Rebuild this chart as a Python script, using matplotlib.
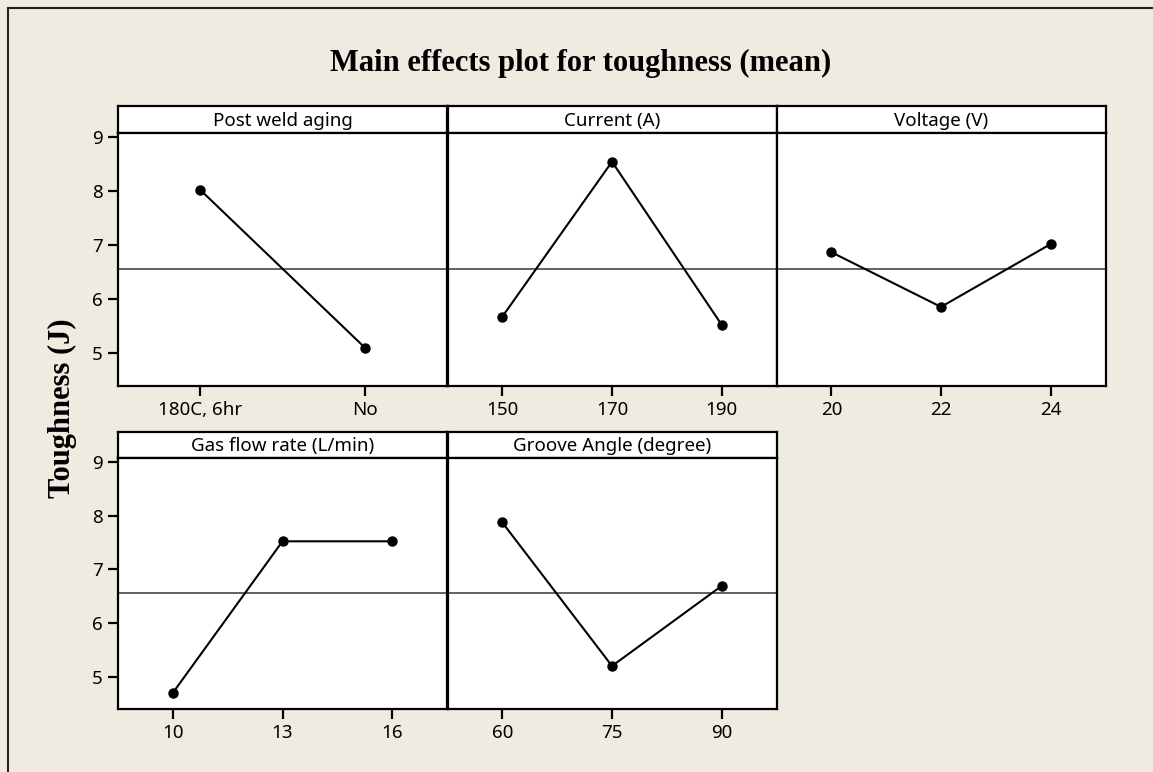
import matplotlib
matplotlib.use("Agg")
import matplotlib.pyplot as plt
from matplotlib.lines import Line2D

# factor levels and mean toughness (J) at each level
post_weld_levels = ['180C, 6hr', 'No']
post_weld_means = [8.02, 5.11]

current_levels = ['150', '170', '190']
current_means = [5.68, 8.54, 5.53]

voltage_levels = ['20', '22', '24']
voltage_means = [6.87, 5.86, 7.02]

gas_levels = ['10', '13', '16']
gas_means = [4.70, 7.52, 7.52]

groove_levels = ['60', '75', '90']
groove_means = [7.87, 5.20, 6.69]

grand_mean = 6.56

panels = [
    ('Post weld aging', post_weld_levels, post_weld_means),
    ('Current (A)', current_levels, current_means),
    ('Voltage (V)', voltage_levels, voltage_means),
    ('Gas flow rate (L/min)', gas_levels, gas_means),
    ('Groove Angle (degree)', groove_levels, groove_means),
]

W, H = 1153, 772
bg = '#EFEBE1'
tick_font = 'Noto Sans'
fs = 13.5

fig = plt.figure(figsize=(W / 100, H / 100), dpi=100, facecolor=bg)

# outer frame (top and left edges)
fig.add_artist(Line2D([8 / W, 1], [1 - 8 / H, 1 - 8 / H], transform=fig.transFigure,
                      color='#222222', lw=1.5))
fig.add_artist(Line2D([8 / W, 8 / W], [0, 1 - 8 / H], transform=fig.transFigure,
                      color='#222222', lw=1.5))

fig.text(581 / W, 1 - 63 / H, 'Main effects plot for toughness (mean)',
         ha='center', va='center', fontsize=22, fontweight='bold',
         family='Liberation Serif')
fig.text(62 / W, 1 - 408 / H, 'Toughness (J)', rotation=90,
         ha='center', va='center', fontsize=22, fontweight='bold',
         family='Liberation Serif')

col_left = [118, 447.5, 776.5]
col_w = 329
rows = [(106, 133, 386), (432, 458, 709)]  # header top, plot top, plot bottom (px)


def px_box(x0, y0, w, h):
    return [x0 / W, 1 - (y0 + h) / H, w / W, h / H]


for i, (name, levels, means) in enumerate(panels):
    r, c = divmod(i, 3)
    htop, ptop, pbot = rows[r]
    x0 = col_left[c]

    # header strip with the factor name
    hax = fig.add_axes(px_box(x0, htop, col_w, ptop - htop))
    hax.set_facecolor('white')
    hax.set_xticks([])
    hax.set_yticks([])
    for s in hax.spines.values():
        s.set_linewidth(1.6)
    hax.text(0.5, 0.45, name, ha='center', va='center', fontsize=fs,
             family=tick_font, transform=hax.transAxes)

    ax = fig.add_axes(px_box(x0, ptop, col_w, pbot - ptop))
    ax.set_facecolor('white')
    for s in ax.spines.values():
        s.set_linewidth(1.6)
    x = list(range(len(levels)))
    ax.axhline(grand_mean, color='#555555', lw=1.3, zorder=1)
    ax.plot(x, means, color='black', lw=1.5, marker='o', markersize=6.5, zorder=3)
    ax.set_xlim(-0.5, len(levels) - 0.5)
    ax.set_ylim(4.40, 9.07)
    ax.set_xticks(x)
    ax.set_xticklabels(levels, family=tick_font, fontsize=fs)
    ax.tick_params(axis='x', length=7, width=1.6, pad=4)
    if c == 0:
        ax.set_yticks([5, 6, 7, 8, 9])
        ax.set_yticklabels(['5', '6', '7', '8', '9'], family=tick_font, fontsize=fs)
        ax.tick_params(axis='y', length=7, width=1.6, pad=4)
    else:
        ax.set_yticks([])

fig.savefig('out.png', dpi=100, facecolor=bg)
